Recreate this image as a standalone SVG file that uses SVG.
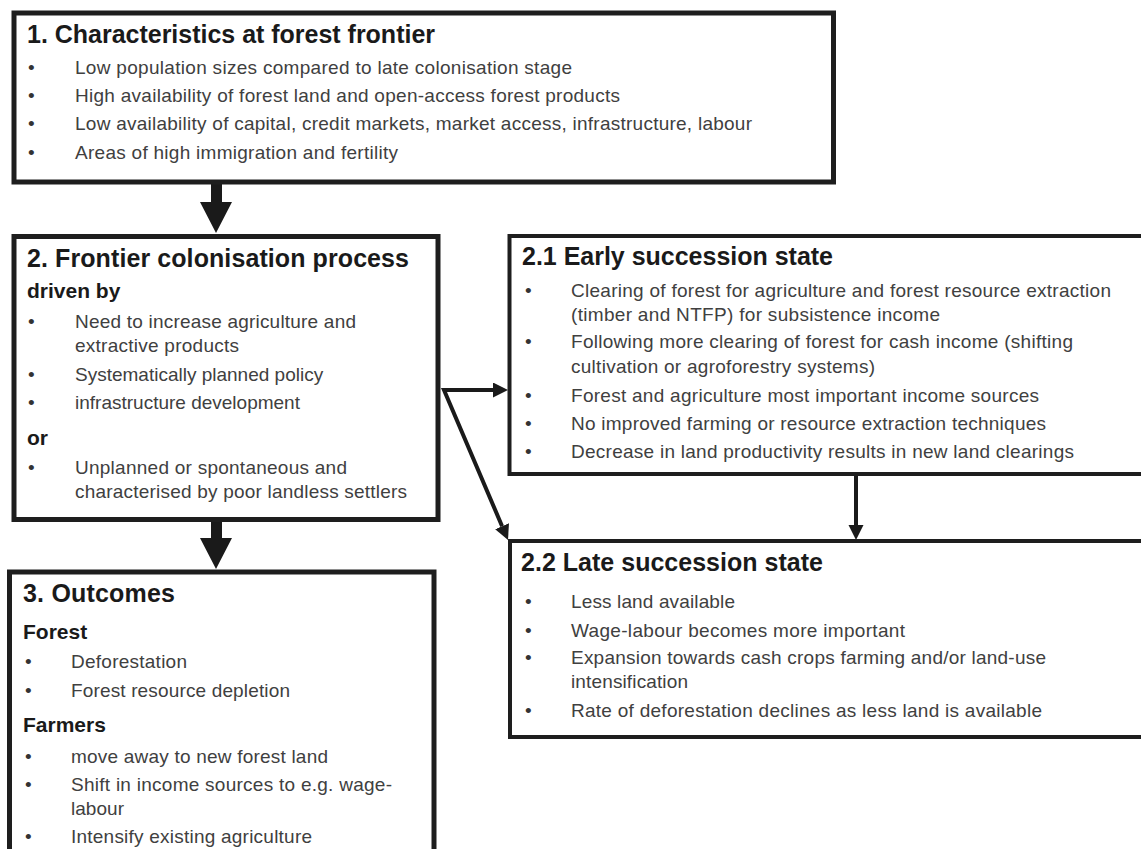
<svg xmlns="http://www.w3.org/2000/svg" width="1141" height="849" viewBox="0 0 1141 849">
<defs>
<style>
.box{fill:#ffffff;stroke:#1e1e1e;stroke-width:5}
.box2{fill:#ffffff;stroke:#1e1e1e;stroke-width:4}
.t{font-family:"Liberation Sans",Arial,sans-serif;font-weight:bold;font-size:25px;fill:#1a1a1a}
.s{font-family:"Liberation Sans",Arial,sans-serif;font-weight:bold;font-size:21px;fill:#1a1a1a}
.b{font-family:"Liberation Sans",Arial,sans-serif;font-size:19px;fill:#404040}
.d{font-family:"Liberation Sans",Arial,sans-serif;font-size:19px;fill:#333333}
.c{fill:none;stroke:#1a1a1a;stroke-width:4}
.big{fill:#1a1a1a}
</style>
<marker id="ah" markerUnits="userSpaceOnUse" markerWidth="16" markerHeight="16" refX="0" refY="7.5" orient="auto-start-reverse" viewBox="0 0 16 16">
<path d="M0,0 L15,7.5 L0,15 Z" fill="#1a1a1a"/>
</marker>
</defs>
<rect width="1141" height="849" fill="#ffffff"/>

<g id="connectors">
<polygon class="big" points="211,184 222,184 222,202 232,202 216,233 200,202 211,202"/>
<polygon class="big" points="211,521 222,521 222,538 232,538 216,569 200,538 211,538"/>
<path class="c" d="M493,390 L444,390 L502.1,526.2" marker-start="url(#ah)" marker-end="url(#ah)"/>
<line class="c" x1="856" y1="476" x2="856" y2="525" marker-end="url(#ah)"/>
</g>

<g id="node1">
<rect class="box" x="14" y="13" width="819.5" height="169"/>
<text class="t" x="27" y="43" textLength="408">1. Characteristics at forest frontier</text>
<text class="d" x="28" y="74">•</text>
<text class="b" x="75" y="74" textLength="497">Low population sizes compared to late colonisation stage</text>
<text class="d" x="28" y="102">•</text>
<text class="b" x="75" y="102" textLength="545">High availability of forest land and open-access forest products</text>
<text class="d" x="28" y="130">•</text>
<text class="b" x="75" y="130" textLength="677">Low availability of capital, credit markets, market access, infrastructure, labour</text>
<text class="d" x="28" y="159">•</text>
<text class="b" x="75" y="159" textLength="323">Areas of high immigration and fertility</text>
</g>

<g id="node2">
<rect class="box" x="14" y="236.5" width="424" height="283"/>
<text class="t" x="27" y="267" textLength="382">2. Frontier colonisation process</text>
<text class="s" x="27" y="298">driven by</text>
<text class="d" x="28" y="328">•</text>
<text class="b" x="75" y="328" textLength="281">Need to increase agriculture and</text>
<text class="b" x="75" y="352" textLength="164">extractive products</text>
<text class="d" x="28" y="381">•</text>
<text class="b" x="75" y="381">Systematically planned policy</text>
<text class="d" x="28" y="409">•</text>
<text class="b" x="75" y="409">infrastructure development</text>
<text class="s" x="27" y="445">or</text>
<text class="d" x="28" y="474">•</text>
<text class="b" x="75" y="474" textLength="272">Unplanned or spontaneous and</text>
<text class="b" x="75" y="498" textLength="332">characterised by poor landless settlers</text>
</g>

<g id="node3">
<rect class="box" x="9.5" y="572" width="424.5" height="310"/>
<text class="t" x="23" y="602" textLength="152">3. Outcomes</text>
<text class="s" x="23" y="639">Forest</text>
<text class="d" x="25" y="668">•</text>
<text class="b" x="71" y="668" textLength="116">Deforestation</text>
<text class="d" x="25" y="697">•</text>
<text class="b" x="71" y="697" textLength="219">Forest resource depletion</text>
<text class="s" x="23" y="732">Farmers</text>
<text class="d" x="25" y="763">•</text>
<text class="b" x="71" y="763" textLength="257">move away to new forest land</text>
<text class="d" x="25" y="791">•</text>
<text class="b" x="71" y="791" textLength="321">Shift in income sources to e.g. wage-</text>
<text class="b" x="71" y="815" textLength="53">labour</text>
<text class="d" x="25" y="843">•</text>
<text class="b" x="71" y="843" textLength="241">Intensify existing agriculture</text>
</g>

<g id="node21">
<rect class="box2" x="509.5" y="236" width="660" height="238"/>
<text class="t" x="522" y="265" textLength="311">2.1 Early succession state</text>
<text class="d" x="525" y="297">•</text>
<text class="b" x="571" y="297" textLength="540">Clearing of forest for agriculture and forest resource extraction</text>
<text class="b" x="571" y="321" textLength="369">(timber and NTFP) for subsistence income</text>
<text class="d" x="525" y="348">•</text>
<text class="b" x="571" y="348" textLength="502">Following more clearing of forest for cash income (shifting</text>
<text class="b" x="571" y="373" textLength="304">cultivation or agroforestry systems)</text>
<text class="d" x="525" y="402">•</text>
<text class="b" x="571" y="402" textLength="468">Forest and agriculture most important income sources</text>
<text class="d" x="525" y="430">•</text>
<text class="b" x="571" y="430" textLength="475">No improved farming or resource extraction techniques</text>
<text class="d" x="525" y="458">•</text>
<text class="b" x="571" y="458" textLength="503">Decrease in land productivity results in new land clearings</text>
</g>

<g id="node22">
<rect class="box2" x="510" y="541" width="660" height="196"/>
<text class="t" x="521" y="571" textLength="302">2.2 Late succession state</text>
<text class="d" x="525" y="608">•</text>
<text class="b" x="571" y="608" textLength="164">Less land available</text>
<text class="d" x="525" y="637">•</text>
<text class="b" x="571" y="637" textLength="334">Wage-labour becomes more important</text>
<text class="d" x="525" y="664">•</text>
<text class="b" x="571" y="664" textLength="475">Expansion towards cash crops farming and/or land-use</text>
<text class="b" x="571" y="688" textLength="117">intensification</text>
<text class="d" x="525" y="717">•</text>
<text class="b" x="571" y="717" textLength="471">Rate of deforestation declines as less land is available</text>
</g>
</svg>
